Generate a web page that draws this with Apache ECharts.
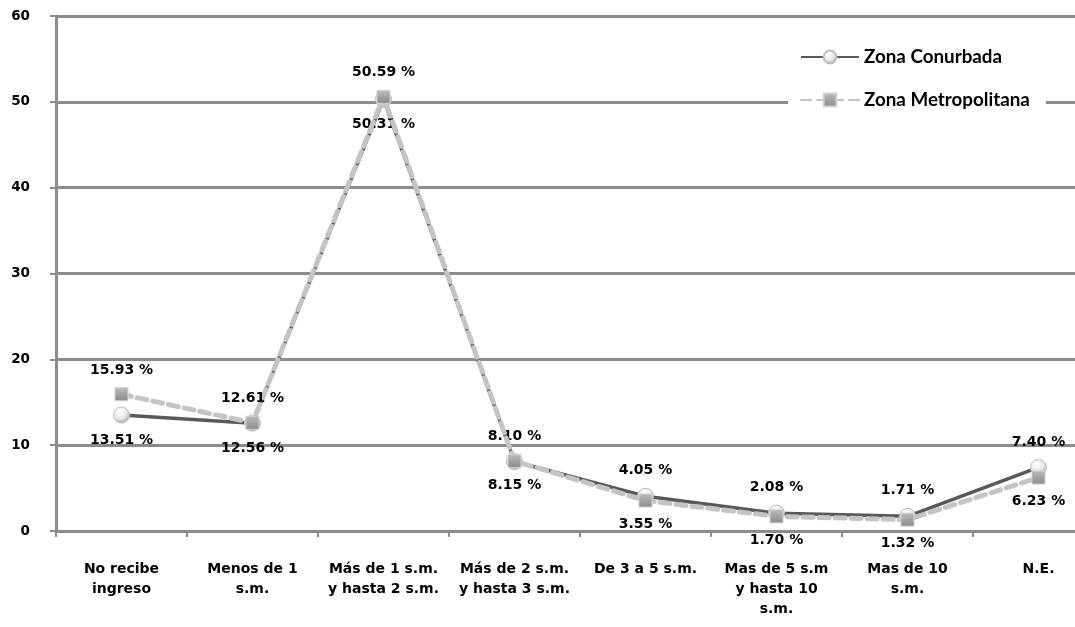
<!DOCTYPE html>
<html>
<head>
<meta charset="utf-8">
<script src="https://cdn.jsdelivr.net/npm/echarts@6/dist/echarts.min.js"></script>
<style>html,body{margin:0;padding:0;background:#fff}#c{width:1075px;height:627px}</style>
</head>
<body>
<div id="c"></div>
<script>
const categories = [
  'No recibe\ningreso',
  'Menos de 1\ns.m.',
  'Más de 1 s.m.\ny hasta 2 s.m.',
  'Más de 2 s.m.\ny hasta 3 s.m.',
  'De 3 a 5 s.m.',
  'Mas de 5 s.m\ny hasta 10\ns.m.',
  'Mas de 10\ns.m.',
  'N.E.'
];
const conurbada = [13.51, 12.56, 50.31, 8.10, 4.05, 2.08, 1.71, 7.40];
const metropolitana = [15.93, 12.61, 50.59, 8.15, 3.55, 1.70, 1.32, 6.23];
const yTicks = [0, 10, 20, 30, 40, 50, 60];

// label placement (style)
const conurbadaLabelSide = ['bottom','bottom','bottom','top','top','top','top','top'];
const metropolitanaLabelSide = ['top','top','top','bottom','bottom','bottom','bottom','bottom'];

const FONT = 'DejaVu Sans';
const LEGEND_FONT = 'Lato';
const gridColor = '#8c8c8c';

function build(values, sides) {
  return values.map((v, i) => ({
    value: v,
    label: { position: sides[i] }
  }));
}

const labelStyle = {
  show: true,
  fontFamily: FONT,
  fontWeight: 'bold',
  fontSize: 14,
  color: '#000',
  distance: 10,
  formatter: p => p.value.toFixed(2) + ' %'
};

const chart = echarts.init(document.getElementById('c'), null, { renderer: 'canvas' });
chart.setOption({
  animation: false,
  backgroundColor: '#fff',
  grid: { left: 56, top: 16, bottom: 96, right: -29, containLabel: false, outerBoundsMode: 'none' },
  legend: {
    orient: 'vertical',
    left: 788,
    top: 40,
    itemGap: 21,
    itemWidth: 58,
    itemHeight: 16,
    padding: [6, 16, 6, 12],
    backgroundColor: '#fff',
    textStyle: { fontFamily: LEGEND_FONT, fontSize: 18.8, fontWeight: 'bold', color: '#000', lineHeight: 22 },
    data: ['Zona Conurbada', 'Zona Metropolitana']
  },
  xAxis: {
    type: 'category',
    data: categories,
    boundaryGap: true,
    axisLine: { lineStyle: { color: gridColor, width: 3 } },
    axisTick: { show: true, length: 6, lineStyle: { color: gridColor, width: 2 } },
    axisLabel: {
      interval: 0,
      margin: 28,
      fontFamily: FONT,
      fontWeight: 'bold',
      fontSize: 14,
      lineHeight: 20,
      color: '#000'
    }
  },
  yAxis: {
    type: 'value',
    min: yTicks[0],
    max: yTicks[yTicks.length - 1],
    interval: 10,
    axisLine: { show: true, lineStyle: { color: gridColor, width: 3 } },
    axisTick: { show: true, length: 6, lineStyle: { color: gridColor, width: 2 } },
    splitLine: { lineStyle: { color: gridColor, width: 3 } },
    axisLabel: {
      margin: 26,
      fontFamily: FONT,
      fontWeight: 'bold',
      fontSize: 13.5,
      color: '#000'
    }
  },
  series: [
    {
      name: 'Zona Conurbada',
      type: 'line',
      data: build(conurbada, conurbadaLabelSide),
      symbol: 'circle',
      symbolSize: 16,
      z: 2,
      lineStyle: { color: '#595959', width: 3.5 },
      itemStyle: {
        color: new echarts.graphic.RadialGradient(0.4, 0.3, 0.7, [
          { offset: 0, color: '#ffffff' },
          { offset: 0.6, color: '#e6e6e6' },
          { offset: 1, color: '#a8a8a8' }
        ]),
        borderColor: '#bdbdbd',
        borderWidth: 1
      },
      label: labelStyle
    },
    {
      name: 'Zona Metropolitana',
      type: 'line',
      data: build(metropolitana, metropolitanaLabelSide),
      symbol: 'rect',
      symbolSize: 13,
      z: 3,
      lineStyle: { color: '#c4c4c4', width: 5, type: [10, 6], cap: 'round' },
      itemStyle: {
        color: new echarts.graphic.LinearGradient(0, 0, 0, 1, [
          { offset: 0, color: '#bdbdbd' },
          { offset: 1, color: '#8a8a8a' }
        ]),
        borderColor: '#d0d0d0',
        borderWidth: 1
      },
      label: labelStyle
    }
  ]
});
</script>
</body>
</html>
